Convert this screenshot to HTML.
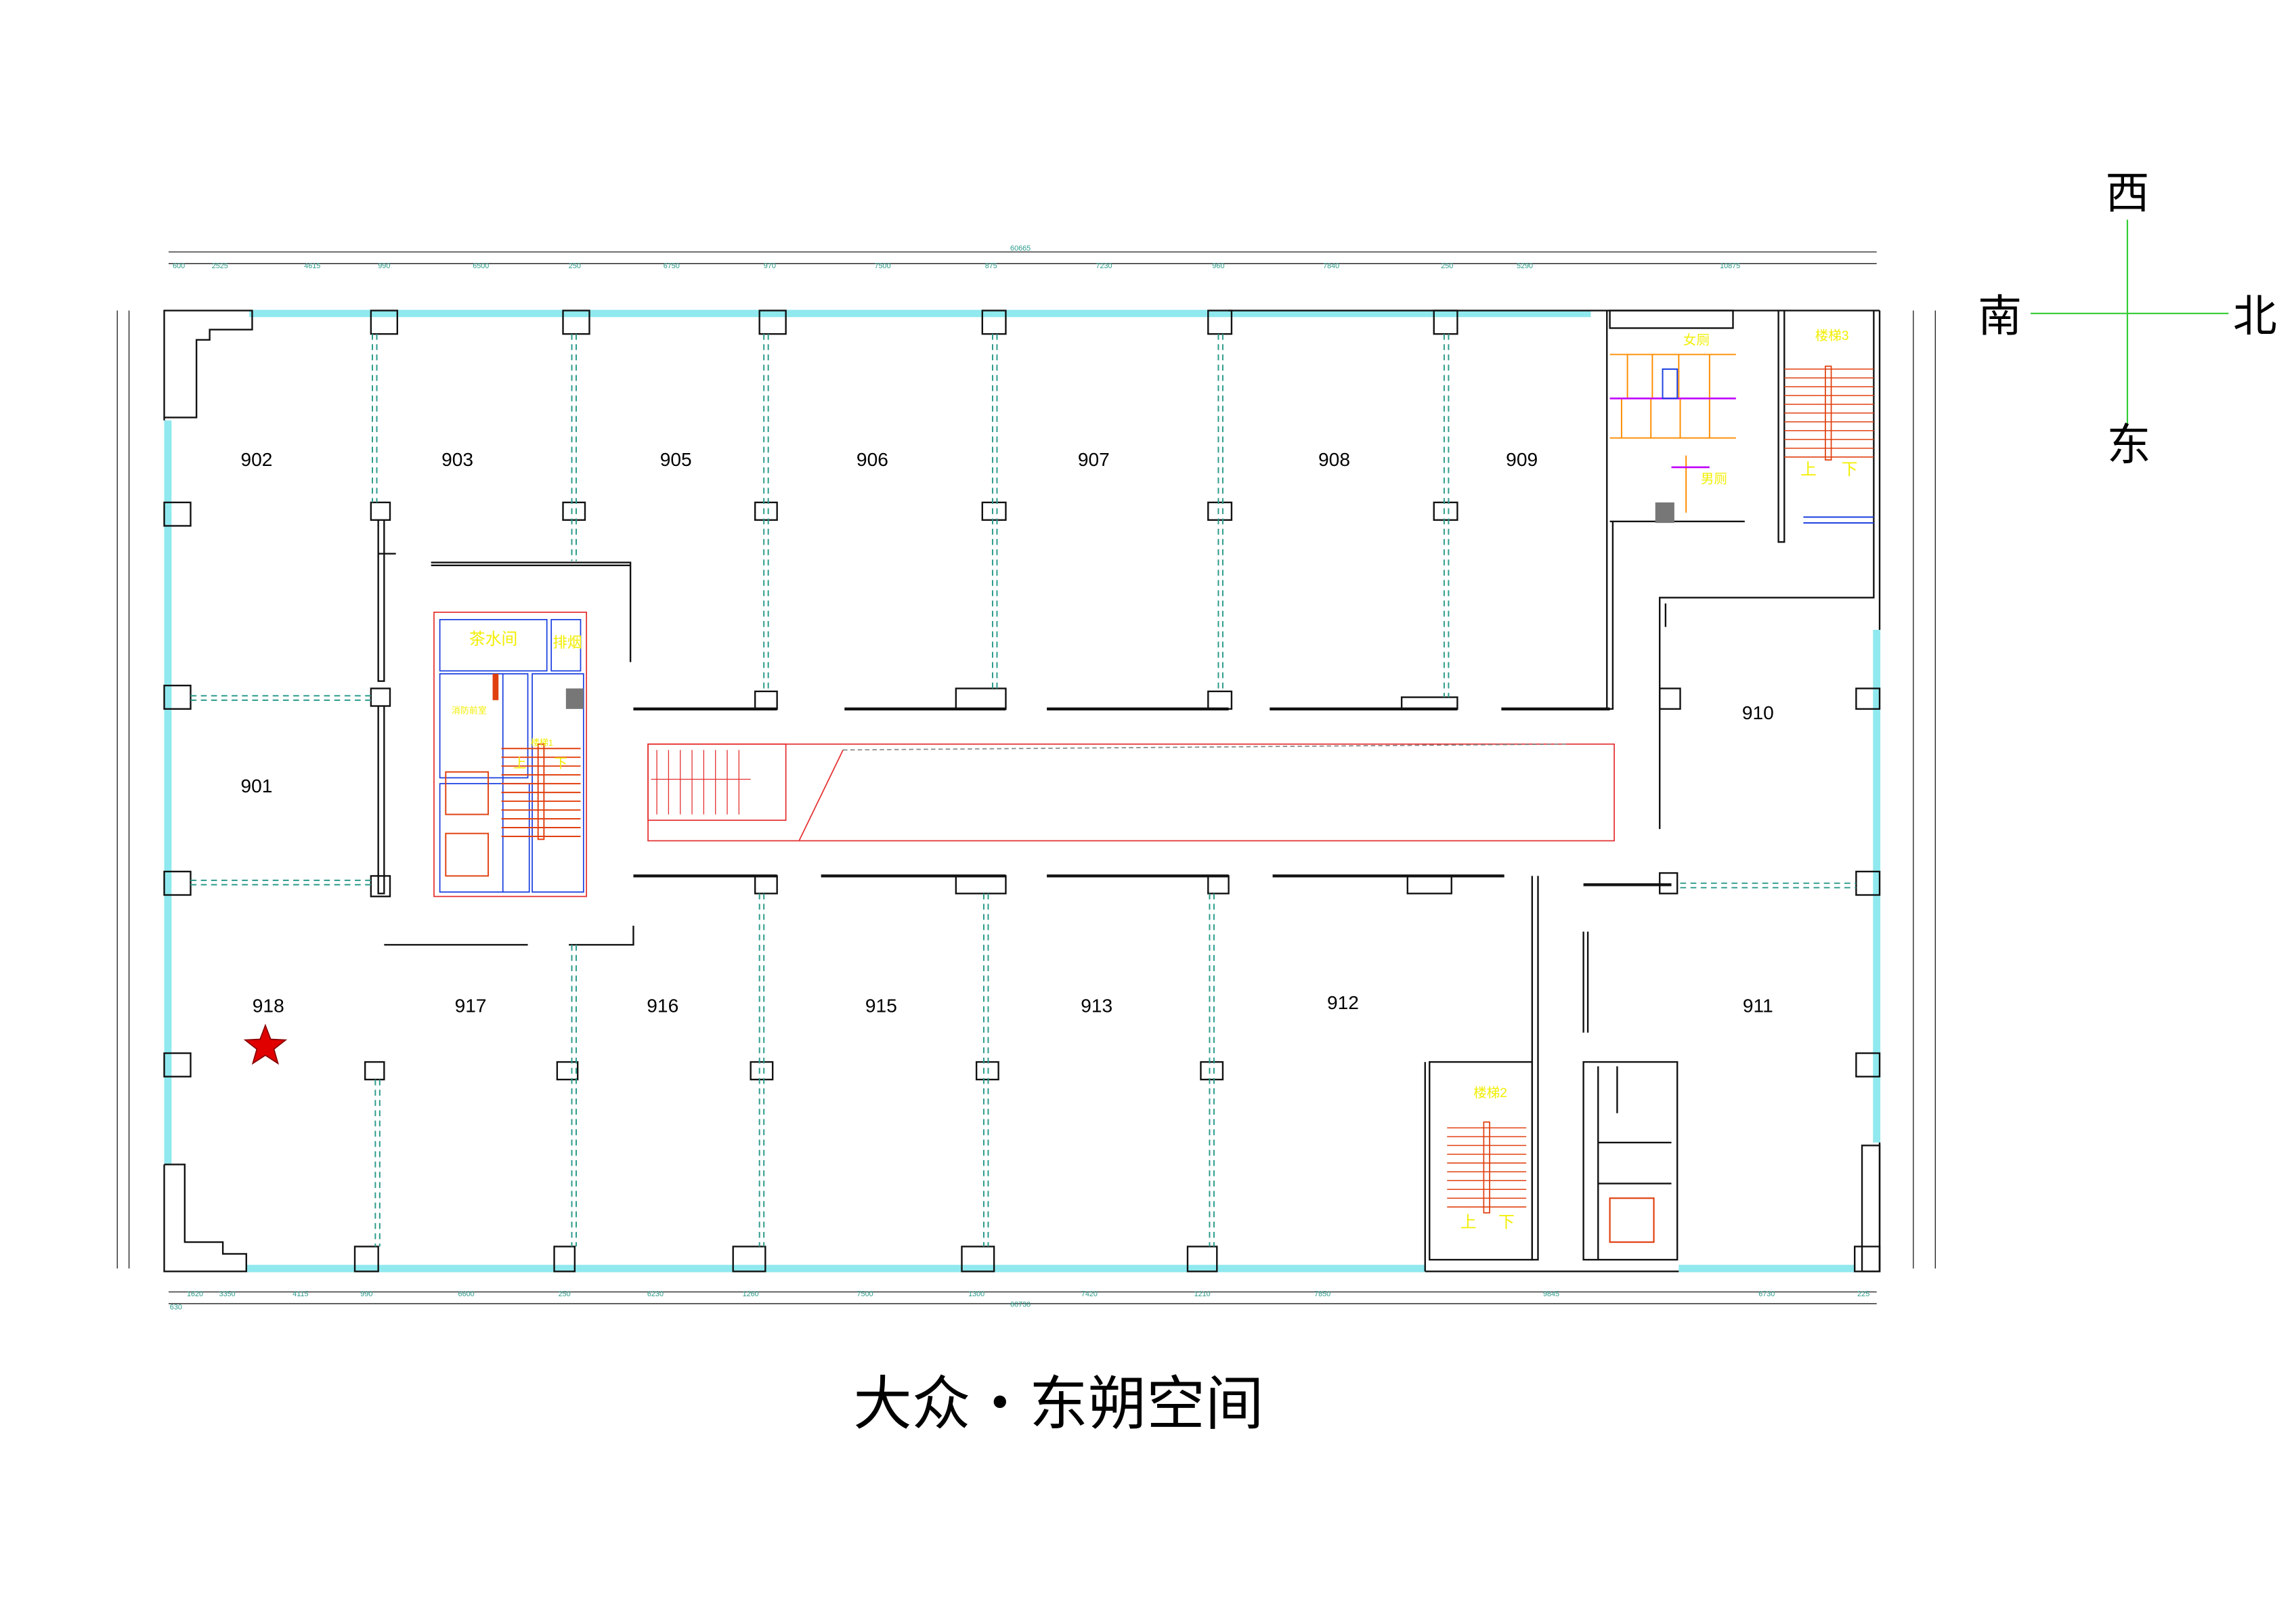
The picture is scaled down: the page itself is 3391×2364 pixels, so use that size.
<!DOCTYPE html>
<html><head><meta charset="utf-8"><style>
html,body{margin:0;padding:0;background:#fff}
svg{display:block}
text{font-family:"Liberation Sans","Noto Sans CJK SC",sans-serif}
</style></head><body>
<svg width="3391" height="2364" viewBox="0 0 1566 1093" preserveAspectRatio="none" xmlns="http://www.w3.org/2000/svg">
<rect width="1570" height="1100" fill="#fff"/>
<!-- dimension lines -->
<g stroke="#1a1a1a" stroke-width="0.6" fill="none">
<line x1="115" y1="172" x2="1280" y2="172"/><line x1="115" y1="180" x2="1280" y2="180"/>
<line x1="115" y1="882" x2="1280" y2="882"/><line x1="115" y1="890" x2="1280" y2="890"/>
<line x1="80" y1="212" x2="80" y2="866"/><line x1="88" y1="212" x2="88" y2="866"/>
<line x1="1305" y1="212" x2="1305" y2="866"/><line x1="1320" y1="212" x2="1320" y2="866"/>
</g>
<g fill="#2a9a8a" font-size="5" text-anchor="middle">
<text x="696" y="171">60665</text><text x="122" y="183">600</text><text x="150" y="183">2525</text><text x="213" y="183">4615</text><text x="262" y="183">990</text><text x="328" y="183">6500</text><text x="392" y="183">250</text><text x="458" y="183">6750</text><text x="525" y="183">970</text><text x="602" y="183">7500</text><text x="676" y="183">875</text><text x="753" y="183">7230</text><text x="831" y="183">960</text><text x="908" y="183">7840</text><text x="987" y="183">250</text><text x="1040" y="183">5290</text><text x="1180" y="183">10875</text>
<text x="133" y="885">1620</text><text x="155" y="885">3350</text><text x="205" y="885">4115</text><text x="250" y="885">990</text><text x="318" y="885">6600</text><text x="385" y="885">250</text><text x="447" y="885">6230</text><text x="512" y="885">1260</text><text x="590" y="885">7500</text><text x="666" y="885">1300</text><text x="743" y="885">7420</text><text x="820" y="885">1210</text><text x="902" y="885">7850</text><text x="1058" y="885">9845</text><text x="1205" y="885">6730</text><text x="1271" y="885">225</text><text x="696" y="892">60730</text><text x="120" y="894">630</text>
</g>
<!-- cyan glass walls -->
<g stroke="#8fe9ee" stroke-width="5" fill="none">
<line x1="170" y1="214" x2="1085" y2="214"/>
<line x1="114.5" y1="287" x2="114.5" y2="795"/>
<line x1="168" y1="866" x2="972" y2="866"/>
<line x1="1145" y1="866" x2="1265" y2="866"/>
<line x1="1280" y1="430" x2="1280" y2="780"/>
</g>
<!-- main black walls -->
<g stroke="#111" stroke-width="1.1" fill="none">
<polyline points="112,287 112,212 172,212 172,225 143,225 143,232 134,232 134,285 112,285"/>
<polyline points="112,795 112,868 168,868 168,856 152,856 152,848 126,848 126,795 112,795"/>
<line x1="838" y1="212" x2="1282" y2="212"/>
<line x1="1282" y1="212" x2="1282" y2="430"/>
<line x1="1282" y1="780" x2="1282" y2="868"/>
<rect x="1270" y="782" width="12" height="86"/>
<line x1="972" y1="868" x2="1145" y2="868"/>
<line x1="972" y1="725" x2="972" y2="868"/>
<!-- columns -->
<rect x="112" y="343" width="18" height="16"/><rect x="112" y="468" width="18" height="16"/><rect x="112" y="595" width="18" height="16"/><rect x="112" y="719" width="18" height="16"/>
<rect x="253" y="212" width="18" height="16"/><rect x="384" y="212" width="18" height="16"/><rect x="518" y="212" width="18" height="16"/><rect x="670" y="212" width="16" height="16"/><rect x="824" y="212" width="16" height="16"/><rect x="978" y="212" width="16" height="16"/>
<rect x="253" y="343" width="13" height="12"/><rect x="384" y="343" width="15" height="12"/><rect x="515" y="343" width="15" height="12"/><rect x="670" y="343" width="16" height="12"/><rect x="824" y="343" width="16" height="12"/><rect x="978" y="343" width="16" height="12"/>
<rect x="253" y="470" width="13" height="12"/><rect x="253" y="598" width="13" height="14"/>
<rect x="515" y="472" width="15" height="12"/><rect x="652" y="470" width="34" height="14"/><rect x="824" y="472" width="16" height="12"/><rect x="956" y="476" width="38" height="8"/>
<rect x="515" y="598" width="15" height="12"/><rect x="652" y="598" width="34" height="12"/><rect x="824" y="598" width="14" height="12"/><rect x="960" y="598" width="30" height="12"/>
<rect x="249" y="725" width="13" height="12"/><rect x="380" y="725" width="14" height="12"/><rect x="512" y="725" width="15" height="12"/><rect x="666" y="725" width="15" height="12"/><rect x="819" y="725" width="15" height="12"/>
<rect x="242" y="851" width="16" height="17"/><rect x="378" y="851" width="14" height="17"/><rect x="500" y="851" width="22" height="17"/><rect x="656" y="851" width="22" height="17"/><rect x="810" y="851" width="20" height="17"/><rect x="1265" y="851" width="17" height="17"/>
<rect x="1266" y="470" width="16" height="14"/><rect x="1266" y="595" width="16" height="16"/><rect x="1266" y="719" width="16" height="16"/><rect x="1132" y="470" width="14" height="14"/><rect x="1132" y="596" width="12" height="14"/>
<!-- interior walls -->
<polyline points="294,384 430,384 430,452"/>
<line x1="294" y1="386" x2="430" y2="386"/>
<polyline points="258,355 258,465 262,465 262,355"/>
<polyline points="258,482 258,610 262,610 262,482"/>
<line x1="258" y1="378" x2="270" y2="378"/>
<line x1="262" y1="645" x2="360" y2="645"/>
<polyline points="388,645 432,645 432,632"/>
<g stroke-width="2">
<line x1="432" y1="484" x2="530" y2="484"/><line x1="576" y1="484" x2="686" y2="484"/><line x1="714" y1="484" x2="838" y2="484"/><line x1="866" y1="484" x2="994" y2="484"/><line x1="1024" y1="484" x2="1098" y2="484"/>
<line x1="432" y1="598" x2="530" y2="598"/><line x1="560" y1="598" x2="686" y2="598"/><line x1="714" y1="598" x2="838" y2="598"/><line x1="868" y1="598" x2="1026" y2="598"/>
<line x1="1080" y1="604" x2="1140" y2="604"/>
</g>
<polyline points="1096,212 1096,484 1100,484 1100,356"/>
<polyline points="1132,566 1132,408 1278,408 1278,212"/>
<line x1="1136" y1="412" x2="1136" y2="428"/>
<polyline points="1213,212 1213,370 1217,370 1217,212"/>
<line x1="1098" y1="356" x2="1190" y2="356"/>
<rect x="1098" y="212" width="84" height="12"/>
<polyline points="1045,598 1045,860 1049,860 1049,598"/>
<rect x="975" y="725" width="70" height="135"/>
<line x1="1080" y1="636" x2="1080" y2="705"/><line x1="1083" y1="636" x2="1083" y2="705"/>
<rect x="1080" y="725" width="64" height="135"/>
<line x1="1090" y1="780" x2="1140" y2="780"/>
<line x1="1090" y1="808" x2="1140" y2="808"/>
<line x1="1090" y1="728" x2="1090" y2="860"/>
<line x1="1103" y1="728" x2="1103" y2="760"/>
</g>
<!-- dashed cyan partitions -->
<g stroke="#2a9a8a" stroke-width="0.9" stroke-dasharray="4,3" fill="none">
<line x1="254" y1="228" x2="254" y2="343"/><line x1="257" y1="228" x2="257" y2="343"/>
<line x1="390" y1="228" x2="390" y2="383"/><line x1="393" y1="228" x2="393" y2="383"/>
<line x1="521" y1="228" x2="521" y2="472"/><line x1="524" y1="228" x2="524" y2="472"/>
<line x1="677" y1="228" x2="677" y2="470"/><line x1="680" y1="228" x2="680" y2="470"/>
<line x1="831" y1="228" x2="831" y2="472"/><line x1="834" y1="228" x2="834" y2="472"/>
<line x1="985" y1="228" x2="985" y2="476"/><line x1="988" y1="228" x2="988" y2="476"/>
<line x1="130" y1="475" x2="253" y2="475"/><line x1="130" y1="478" x2="253" y2="478"/>
<line x1="130" y1="601" x2="253" y2="601"/><line x1="130" y1="604" x2="253" y2="604"/>
<line x1="1146" y1="603" x2="1266" y2="603"/><line x1="1146" y1="606" x2="1266" y2="606"/>
<line x1="256" y1="737" x2="256" y2="851"/><line x1="259" y1="737" x2="259" y2="851"/>
<line x1="390" y1="645" x2="390" y2="851"/><line x1="393" y1="645" x2="393" y2="851"/>
<line x1="518" y1="610" x2="518" y2="851"/><line x1="521" y1="610" x2="521" y2="851"/>
<line x1="671" y1="610" x2="671" y2="851"/><line x1="674" y1="610" x2="674" y2="851"/>
<line x1="825" y1="610" x2="825" y2="851"/><line x1="828" y1="610" x2="828" y2="851"/>
</g>
<!-- corridor & stairs red -->
<g stroke="#e53030" stroke-width="0.8" fill="none">
<rect x="442" y="508" width="659" height="66"/>
<rect x="442" y="508" width="94" height="52"/>
<line x1="545" y1="574" x2="575" y2="512"/>
<line x1="575" y1="512" x2="1070" y2="508" stroke="#888" stroke-dasharray="3,2"/>
<rect x="296" y="418" width="104" height="194"/>
</g>
<g stroke="#e53030" stroke-width="0.6">
<line x1="448" y1="512" x2="448" y2="556"/><line x1="456" y1="512" x2="456" y2="556"/><line x1="464" y1="512" x2="464" y2="556"/><line x1="472" y1="512" x2="472" y2="556"/><line x1="480" y1="512" x2="480" y2="556"/><line x1="488" y1="512" x2="488" y2="556"/><line x1="496" y1="512" x2="496" y2="556"/><line x1="504" y1="512" x2="504" y2="556"/>
<line x1="444" y1="532" x2="512" y2="532"/>
</g>
<!-- core -->
<g stroke="#1a3fe0" stroke-width="0.8" fill="none">
<rect x="300" y="423" width="73" height="35"/><rect x="376" y="423" width="20" height="35"/>
<rect x="300" y="460" width="60" height="71"/><rect x="363" y="460" width="35" height="149"/>
<rect x="300" y="535" width="61" height="74"/><line x1="343" y1="460" x2="343" y2="609"/>
</g>
<rect x="386" y="470" width="12" height="14" fill="#777"/>
<g stroke="#e04010" stroke-width="0.9" fill="none">
<rect x="304" y="527" width="29" height="29"/><rect x="304" y="569" width="29" height="29"/>
<line x1="342" y1="511" x2="396" y2="511"/><line x1="342" y1="517" x2="396" y2="517"/><line x1="342" y1="523" x2="396" y2="523"/><line x1="342" y1="529" x2="396" y2="529"/><line x1="342" y1="535" x2="396" y2="535"/><line x1="342" y1="541" x2="396" y2="541"/><line x1="342" y1="547" x2="396" y2="547"/><line x1="342" y1="553" x2="396" y2="553"/><line x1="342" y1="559" x2="396" y2="559"/><line x1="342" y1="565" x2="396" y2="565"/><line x1="342" y1="571" x2="396" y2="571"/>
<rect x="367" y="508" width="4" height="65"/>
</g>
<rect x="336" y="460" width="4" height="18" fill="#e04010"/>
<g fill="#f2ee00" font-size="11"><text x="320" y="440">茶水间</text><text x="377" y="442" font-size="10">排烟</text></g>
<g fill="#f2ee00" font-size="6"><text x="308" y="487">消防前室</text><text x="362" y="509">楼梯1</text><text x="350" y="524" font-size="9">上</text><text x="378" y="524" font-size="9">下</text></g>
<!-- stair 2 & 3 -->
<g stroke="#e04010" stroke-width="0.7">
<line x1="987" y1="770" x2="1041" y2="770"/><line x1="987" y1="776" x2="1041" y2="776"/><line x1="987" y1="782" x2="1041" y2="782"/><line x1="987" y1="788" x2="1041" y2="788"/><line x1="987" y1="794" x2="1041" y2="794"/><line x1="987" y1="800" x2="1041" y2="800"/><line x1="987" y1="806" x2="1041" y2="806"/><line x1="987" y1="812" x2="1041" y2="812"/><line x1="987" y1="818" x2="1041" y2="818"/><line x1="987" y1="824" x2="1041" y2="824"/>
<line x1="1217" y1="252" x2="1278" y2="252"/><line x1="1217" y1="258" x2="1278" y2="258"/><line x1="1217" y1="264" x2="1278" y2="264"/><line x1="1217" y1="270" x2="1278" y2="270"/><line x1="1217" y1="276" x2="1278" y2="276"/><line x1="1217" y1="282" x2="1278" y2="282"/><line x1="1217" y1="288" x2="1278" y2="288"/><line x1="1217" y1="294" x2="1278" y2="294"/><line x1="1217" y1="300" x2="1278" y2="300"/><line x1="1217" y1="306" x2="1278" y2="306"/><line x1="1217" y1="312" x2="1278" y2="312"/>
</g>
<rect x="1012" y="766" width="4" height="62" fill="none" stroke="#e04010" stroke-width="0.8"/>
<rect x="1245" y="250" width="4" height="64" fill="none" stroke="#e04010" stroke-width="0.8"/>
<rect x="1098" y="818" width="30" height="30" fill="none" stroke="#e04010" stroke-width="1"/>
<g fill="#f2ee00" font-size="9"><text x="1005" y="749">楼梯2</text><text x="1238" y="232">楼梯3</text><text x="1148" y="235">女厕</text><text x="1160" y="330">男厕</text>
<text x="996" y="838" font-size="11">上</text><text x="1022" y="838" font-size="11">下</text><text x="1228" y="324" font-size="11">上</text><text x="1256" y="324" font-size="11">下</text></g>
<!-- toilets -->
<g stroke="#ff8c00" stroke-width="0.9" fill="none">
<line x1="1098" y1="242" x2="1184" y2="242"/><line x1="1098" y1="299" x2="1184" y2="299"/>
<line x1="1110" y1="242" x2="1110" y2="272"/><line x1="1127" y1="242" x2="1127" y2="272"/><line x1="1145" y1="242" x2="1145" y2="272"/><line x1="1166" y1="242" x2="1166" y2="272"/>
<line x1="1106" y1="272" x2="1106" y2="299"/><line x1="1126" y1="272" x2="1126" y2="299"/><line x1="1146" y1="272" x2="1146" y2="299"/><line x1="1166" y1="272" x2="1166" y2="299"/>
<line x1="1150" y1="311" x2="1150" y2="350"/>
</g>
<line x1="1098" y1="272" x2="1184" y2="272" stroke="#c000ff" stroke-width="1.2"/>
<line x1="1140" y1="319" x2="1166" y2="319" stroke="#c000ff" stroke-width="1.2"/>
<rect x="1134" y="252" width="10" height="20" fill="none" stroke="#1a3fe0" stroke-width="0.9"/>
<rect x="1129" y="343" width="13" height="14" fill="#777"/>
<g stroke="#1a3fe0" stroke-width="0.9" fill="none"><line x1="1230" y1="353" x2="1278" y2="353"/><line x1="1230" y1="357" x2="1278" y2="357"/></g>
<!-- room labels -->
<g font-size="13" fill="#000" text-anchor="middle">
<text x="175" y="318">902</text><text x="312" y="318">903</text><text x="461" y="318">905</text><text x="595" y="318">906</text><text x="746" y="318">907</text><text x="910" y="318">908</text><text x="1038" y="318">909</text>
<text x="175" y="541">901</text><text x="1199" y="491">910</text>
<text x="183" y="691">918</text><text x="321" y="691">917</text><text x="452" y="691">916</text><text x="601" y="691">915</text><text x="748" y="691">913</text><text x="916" y="689">912</text><text x="1199" y="691">911</text>
</g>
<polygon points="181,700 184.6,709.5 194.8,710 186.8,716.3 189.6,726 181,720.4 172.4,726 175.2,716.3 167.2,710 177.4,709.5" fill="#e00000" stroke="#800" stroke-width="0.8"/>
<!-- compass -->
<g stroke="#33cc33" stroke-width="1"><line x1="1451" y1="150" x2="1451" y2="290"/><line x1="1385" y1="214" x2="1520" y2="214"/></g>
<g font-size="30" fill="#000" text-anchor="middle" font-family="Noto Sans CJK SC, sans-serif">
<text x="1451" y="142">西</text><text x="1364" y="226">南</text><text x="1538" y="226">北</text><text x="1452" y="314">东</text>
</g>
<text x="722" y="972" font-size="40" text-anchor="middle" fill="#000">大众・东朔空间</text>
</svg>
</body></html>
